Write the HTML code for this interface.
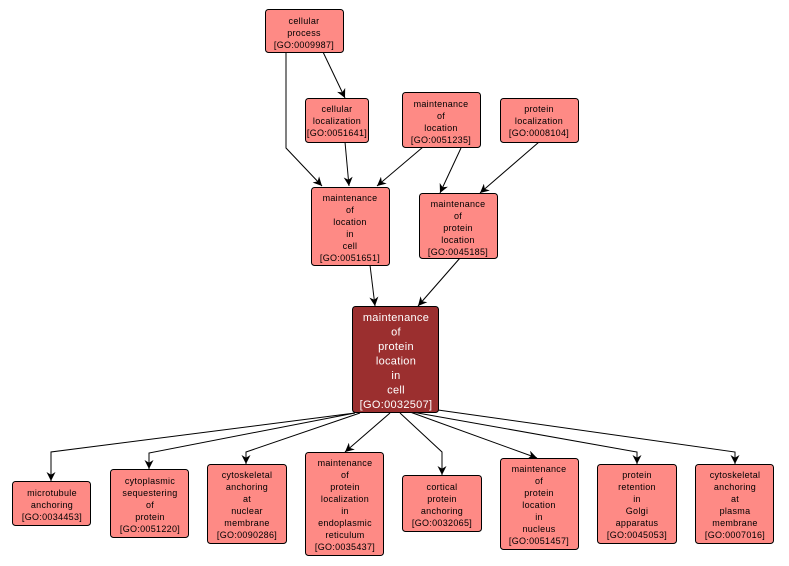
<!DOCTYPE html>
<html><head><meta charset="utf-8"><style>
html,body{margin:0;padding:0;background:#fff;width:789px;height:566px;overflow:hidden}
svg{display:block}
text{font-family:"Liberation Sans",sans-serif;font-size:9px;fill:#000;text-anchor:middle;letter-spacing:0.3px}
.n rect{fill:#fe8a85;stroke:#000;stroke-width:1}
.e{fill:none;stroke:#000;stroke-width:1}
</style></head><body>
<svg width="789" height="566" viewBox="0 0 789 566">
<defs><marker id="a" viewBox="0 0 10 10" refX="10" refY="5" markerWidth="9" markerHeight="9" orient="auto" markerUnits="userSpaceOnUse"><path d="M0,0 L10,5 L0,10 L3,5 z" fill="#000"/></marker></defs>
<g class="e" marker-end="url(#a)">
<polyline points="286,52 286,148 322,186"/>
<line x1="323" y1="52" x2="345" y2="98"/>
<line x1="345" y1="142" x2="349" y2="186"/>
<line x1="423" y1="147" x2="377" y2="186"/>
<line x1="461" y1="148" x2="440" y2="193"/>
<line x1="539" y1="142" x2="480" y2="193"/>
<line x1="370" y1="265" x2="375" y2="306"/>
<line x1="460" y1="258" x2="418" y2="306"/>
<polyline points="355,413 51,452 51,481"/>
<polyline points="355,413 149,453 149,469"/>
<polyline points="360,413 246,452 246,464"/>
<line x1="390" y1="413" x2="345" y2="452"/>
<polyline points="400,413 442,452 442,475"/>
<line x1="410" y1="412" x2="537" y2="458"/>
<polyline points="412,412 637,452 637,464"/>
<polyline points="438,410 735,452 735,464"/>
</g>
<g class="n">
<rect x="265.5" y="9.5" width="78" height="43" rx="3"/>
<text x="304" y="24">cellular</text><text x="304" y="36">process</text><text x="304" y="48">[GO:0009987]</text>
<rect x="305.5" y="98.5" width="63" height="44" rx="3"/>
<text x="337" y="112">cellular</text><text x="337" y="124">localization</text><text x="337" y="136">[GO:0051641]</text>
<rect x="402.5" y="92.5" width="78" height="55" rx="3"/>
<text x="441" y="107">maintenance</text><text x="441" y="119">of</text><text x="441" y="131">location</text><text x="441" y="143">[GO:0051235]</text>
<rect x="500.5" y="98.5" width="78" height="44" rx="3"/>
<text x="539" y="112">protein</text><text x="539" y="124">localization</text><text x="539" y="136">[GO:0008104]</text>
<rect x="311.5" y="187.5" width="78" height="78" rx="3"/>
<text x="350" y="201">maintenance</text><text x="350" y="213">of</text><text x="350" y="225">location</text><text x="350" y="237">in</text><text x="350" y="249">cell</text><text x="350" y="261">[GO:0051651]</text>
<rect x="419.5" y="193.5" width="78" height="65" rx="3"/>
<text x="458" y="207">maintenance</text><text x="458" y="219">of</text><text x="458" y="231">protein</text><text x="458" y="243">location</text><text x="458" y="255">[GO:0045185]</text>
<rect x="352.5" y="306.5" width="86" height="106" rx="3" style="fill:#9b2f2f"/>
<g style="font-size:11px"><text x="396" y="321" style="fill:#fff;font-size:11px">maintenance</text><text x="396" y="335.5" style="fill:#fff;font-size:11px">of</text><text x="396" y="350" style="fill:#fff;font-size:11px">protein</text><text x="396" y="364.5" style="fill:#fff;font-size:11px">location</text><text x="396" y="379" style="fill:#fff;font-size:11px">in</text><text x="396" y="393.5" style="fill:#fff;font-size:11px">cell</text><text x="396" y="408" style="fill:#fff;font-size:11px">[GO:0032507]</text></g>
<rect x="12.5" y="481.5" width="78" height="44" rx="3"/>
<text x="52" y="496">microtubule</text><text x="52" y="508">anchoring</text><text x="52" y="520">[GO:0034453]</text>
<rect x="110.5" y="469.5" width="78" height="68" rx="3"/>
<text x="150" y="484">cytoplasmic</text><text x="150" y="496">sequestering</text><text x="150" y="508">of</text><text x="150" y="520">protein</text><text x="150" y="532">[GO:0051220]</text>
<rect x="207.5" y="464.5" width="79" height="79" rx="3"/>
<text x="247" y="478">cytoskeletal</text><text x="247" y="490">anchoring</text><text x="247" y="502">at</text><text x="247" y="514">nuclear</text><text x="247" y="526">membrane</text><text x="247" y="538">[GO:0090286]</text>
<rect x="305.5" y="452.5" width="78" height="103" rx="3"/>
<text x="345" y="466">maintenance</text><text x="345" y="478">of</text><text x="345" y="490">protein</text><text x="345" y="502">localization</text><text x="345" y="514">in</text><text x="345" y="526">endoplasmic</text><text x="345" y="538">reticulum</text><text x="345" y="550">[GO:0035437]</text>
<rect x="402.5" y="475.5" width="79" height="56" rx="3"/>
<text x="442" y="490">cortical</text><text x="442" y="502">protein</text><text x="442" y="514">anchoring</text><text x="442" y="526">[GO:0032065]</text>
<rect x="500.5" y="458.5" width="78" height="91" rx="3"/>
<text x="539" y="472">maintenance</text><text x="539" y="484">of</text><text x="539" y="496">protein</text><text x="539" y="508">location</text><text x="539" y="520">in</text><text x="539" y="532">nucleus</text><text x="539" y="544">[GO:0051457]</text>
<rect x="597.5" y="464.5" width="79" height="79" rx="3"/>
<text x="637" y="478">protein</text><text x="637" y="490">retention</text><text x="637" y="502">in</text><text x="637" y="514">Golgi</text><text x="637" y="526">apparatus</text><text x="637" y="538">[GO:0045053]</text>
<rect x="695.5" y="464.5" width="78" height="79" rx="3"/>
<text x="735" y="478">cytoskeletal</text><text x="735" y="490">anchoring</text><text x="735" y="502">at</text><text x="735" y="514">plasma</text><text x="735" y="526">membrane</text><text x="735" y="538">[GO:0007016]</text>
</g>
</svg>
</body></html>
